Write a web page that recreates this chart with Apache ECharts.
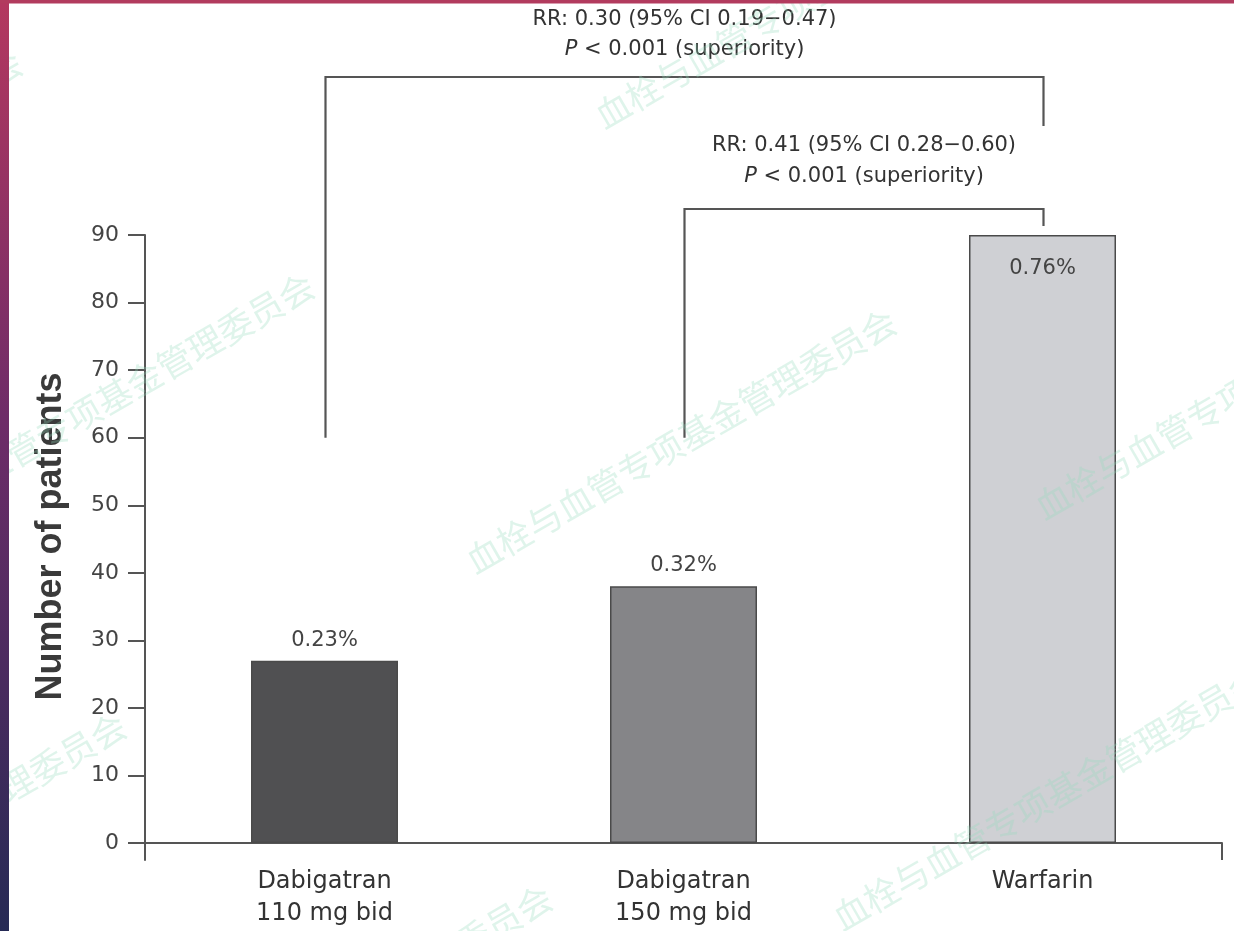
<!DOCTYPE html>
<html>
<head>
<meta charset="utf-8">
<script src="https://cdn.jsdelivr.net/npm/echarts@6/dist/echarts.min.js"></script>
<style>
  html, body { margin: 0; padding: 0; background: #ffffff; }
  #chart { width: 1234px; height: 931px; }
</style>
</head>
<body>
<div id="chart"></div>
<script>
// ---- data ----
const categories = ['Dabigatran\n110 mg bid', 'Dabigatran\n150 mg bid', 'Warfarin'];
const patients = [27, 38, 90];
const annualRates = ['0.23%', '0.32%', '0.76%'];
const yTicks = [0, 10, 20, 30, 40, 50, 60, 70, 80, 90];
const compareFrom = [0, 1];
const compareTo = [2, 2];
const rrTexts = ['RR: 0.30 (95% CI 0.19\u22120.47)', 'RR: 0.41 (95% CI 0.28\u22120.60)'];
const pTexts = ['P < 0.001 (superiority)', 'P < 0.001 (superiority)'];
const yAxisTitle = 'Number of patients';
const watermarkText = '血栓与血管专项基金管理委员会';

// ---- styling / layout ----
const barColors = ['#505052', '#858588', '#cfd0d4'];
const labelPlacement = [
  { position: 'top', distance: 10 },
  { position: 'top', distance: 10 },
  { position: 'insideTop', distance: 23 }
];
const bracketLegValue = 60;          // value where each bracket's left leg begins
const bracketTopPx = [77, 209];      // y of each bracket's horizontal bar
const bracketRightLegPx = [49, 17];  // length of the short right leg
const rrLineOffset = [57, 63];       // RR line centre above the bracket
const pLineOffset = [27, 32];        // P line centre above the bracket
const inkColor = '#333333';
const axisColor = '#555555';
const wideFont = '"DejaVu Sans", "Liberation Sans", sans-serif';
const watermarkCenters = [
  [681, 441], [1250, 387], [1048, 798], [337, 1017],
  [99, 405], [-89, 845], [810, -4], [-193, 182]
];

const chart = echarts.init(document.getElementById('chart'), null, { renderer: 'canvas' });

function renderBracket(params, api) {
  const i = params.dataIndex;
  const a = api.coord([compareFrom[i], bracketLegValue]);
  const b = api.coord([compareTo[i], bracketLegValue]);
  const top = bracketTopPx[i];
  const xl = Math.round(a[0]) + 0.5;
  const xr = Math.round(b[0]) + 0.5;
  const mid = (xl + xr) / 2;
  return {
    type: 'group',
    children: [
      {
        type: 'polyline',
        shape: { points: [[xl, a[1]], [xl, top], [xr, top], [xr, top + bracketRightLegPx[i]]] },
        style: { stroke: axisColor, lineWidth: 2.2, fill: null }
      },
      {
        type: 'text',
        x: mid, y: top - rrLineOffset[i],
        style: {
          text: rrTexts[i], align: 'center', verticalAlign: 'middle',
          fontSize: 21, fontFamily: wideFont, fill: inkColor
        }
      },
      {
        type: 'text',
        x: mid, y: top - pLineOffset[i],
        style: {
          text: pTexts[i].replace(/^P/, '{i|P}'),
          rich: { i: { fontStyle: 'italic', fontSize: 21, fontFamily: wideFont, fill: inkColor } },
          align: 'center', verticalAlign: 'middle',
          fontSize: 21, fontFamily: wideFont, fill: inkColor
        }
      }
    ]
  };
}

const watermarks = watermarkCenters.map(c => ({
  type: 'text',
  x: c[0], y: c[1],
  rotation: Math.PI / 6,
  z: 100,
  silent: true,
  style: {
    text: watermarkText,
    align: 'center', verticalAlign: 'middle',
    fontSize: 35,
    fontFamily: '"Noto Sans CJK SC", sans-serif',
    fill: 'rgba(150, 220, 190, 0.3)'
  }
}));

const option = {
  backgroundColor: '#ffffff',
  animation: false,
  grid: { left: 145, right: 12, top: 235, bottom: 71, containLabel: false, outerBoundsMode: 'none' },
  xAxis: {
    type: 'category',
    data: categories,
    boundaryGap: true,
    axisLine: { onZero: true, lineStyle: { color: axisColor, width: 2 } },
    axisTick: {
      show: true,
      interval: (index) => index === 0,
      inside: false,
      length: 17,
      lineStyle: { color: axisColor, width: 2 }
    },
    axisLabel: {
      margin: 6,
      fontSize: 24,
      lineHeight: 32,
      fontFamily: wideFont,
      color: inkColor
    }
  },
  yAxis: {
    type: 'value',
    min: -2.5,
    max: 90,
    name: yAxisTitle,
    nameLocation: 'middle',
    nameRotate: 90,
    nameGap: 76,
    nameTextStyle: {
      fontSize: 36,
      fontWeight: 'bold',
      fontFamily: '"Liberation Sans", Arial, sans-serif',
      color: '#3a3a3a',
      padding: [0, 0, 0, 22]
    },
    splitLine: { show: false },
    axisLine: { show: true, onZero: false, lineStyle: { color: axisColor, width: 2 } },
    axisTick: {
      show: true,
      inside: false,
      length: 17,
      customValues: yTicks,
      lineStyle: { color: axisColor, width: 2 }
    },
    axisLabel: {
      customValues: yTicks,
      margin: 26,
      fontSize: 22,
      fontFamily: wideFont,
      color: '#444444'
    }
  },
  series: [
    {
      type: 'bar',
      barWidth: 147,
      data: patients.map((v, i) => ({
        value: v,
        itemStyle: { color: barColors[i], borderColor: '#4a4a4a', borderWidth: 1.5 },
        label: labelPlacement[i]
      })),
      label: {
        show: true,
        formatter: (p) => annualRates[p.dataIndex],
        fontSize: 21,
        fontFamily: wideFont,
        color: '#444444'
      }
    },
    {
      type: 'custom',
      clip: false,
      silent: true,
      renderItem: renderBracket,
      data: compareFrom.map(f => [f, bracketLegValue]),
      z: 5
    }
  ],
  graphic: [
    {
      type: 'rect',
      shape: { x: 0, y: 0, width: 9, height: 931 },
      z: 200,
      silent: true,
      style: {
        fill: new echarts.graphic.LinearGradient(0, 0, 0, 1, [
          { offset: 0, color: '#b4385f' },
          { offset: 0.45, color: '#6e2c68' },
          { offset: 1, color: '#262a55' }
        ])
      }
    },
    {
      type: 'rect',
      shape: { x: 0, y: 0, width: 1234, height: 3.5 },
      z: 200,
      silent: true,
      style: { fill: '#b23b5e' }
    }
  ].concat(watermarks)
};

chart.setOption(option);
</script>
</body>
</html>
